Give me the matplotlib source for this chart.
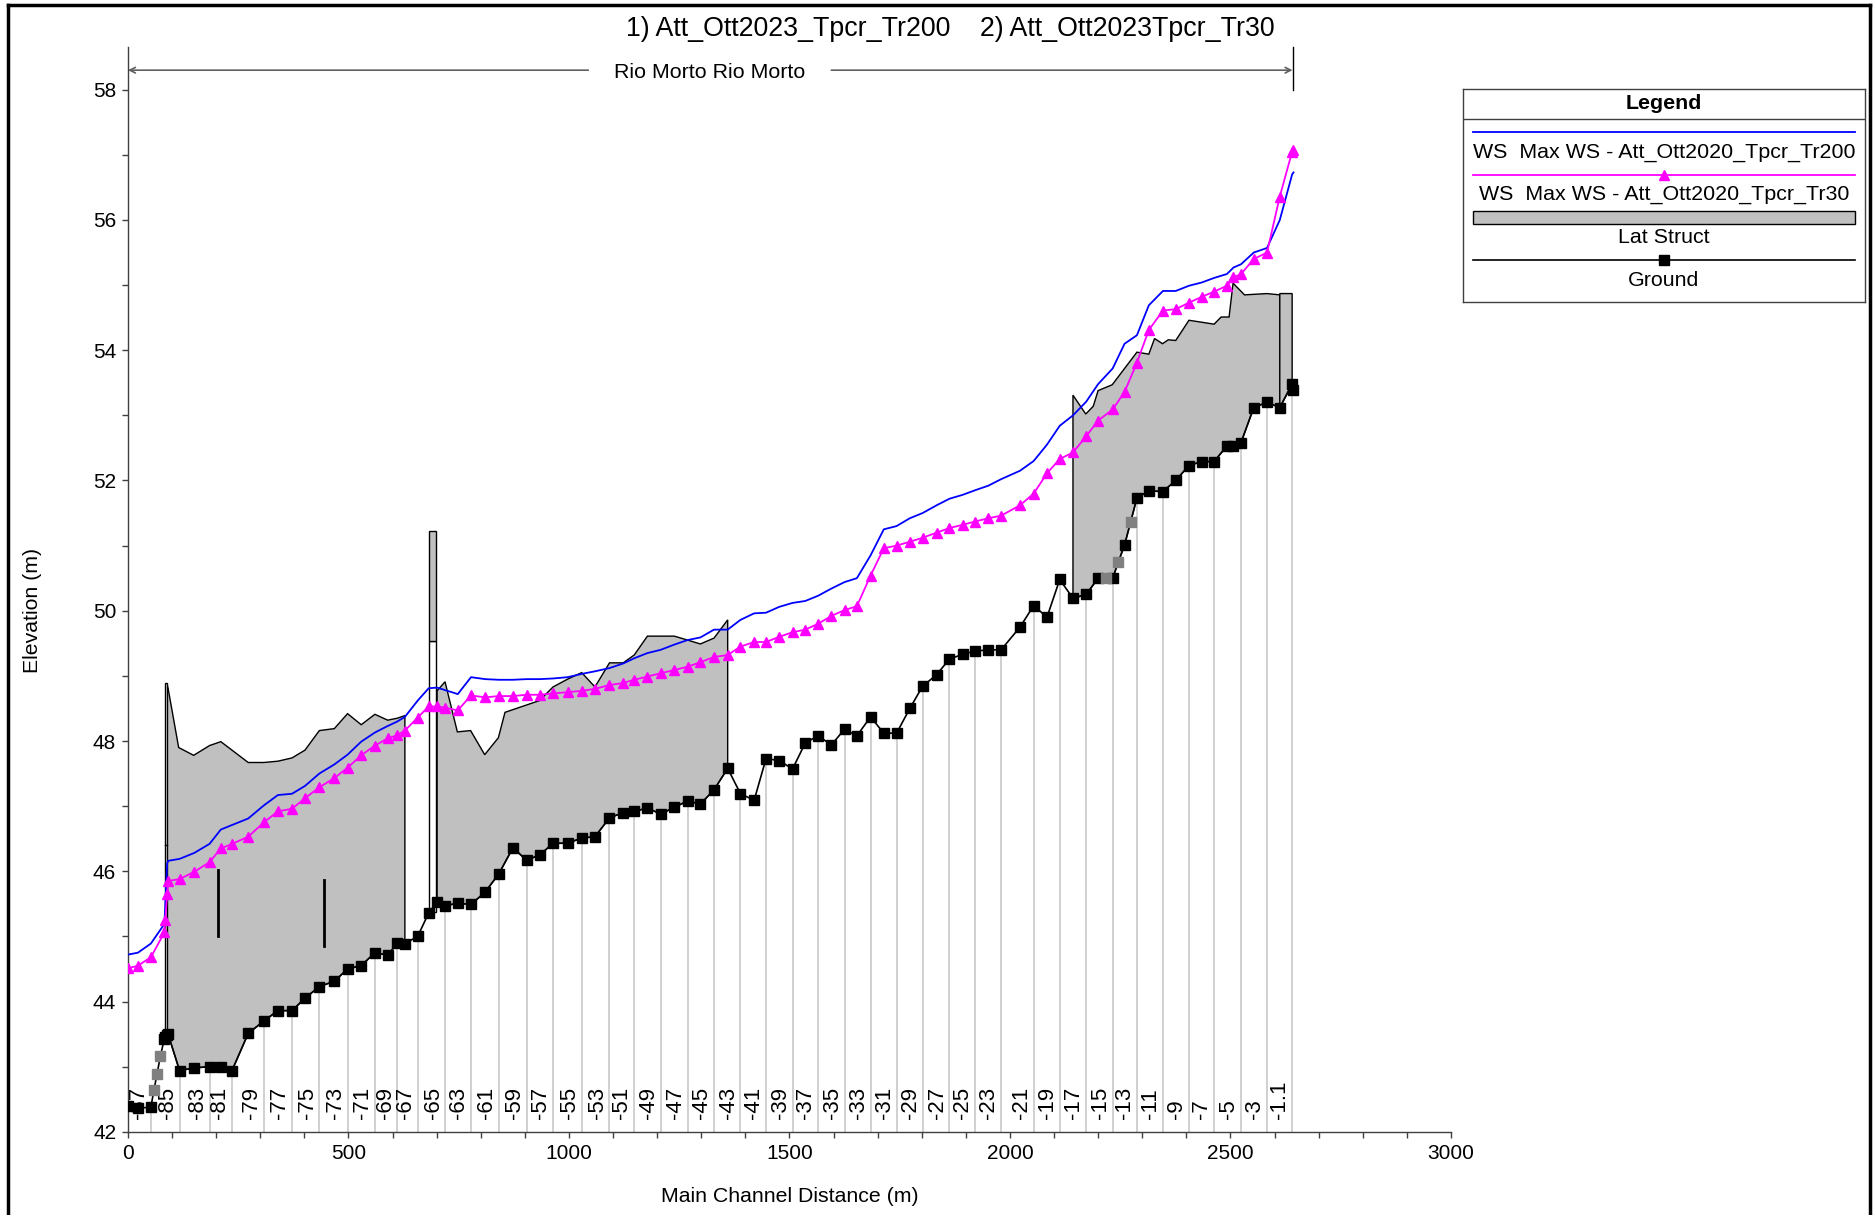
import numpy as np
import matplotlib
matplotlib.use("Agg")
import matplotlib.pyplot as plt
from matplotlib.ticker import MultipleLocator
from matplotlib.patches import Polygon, Rectangle
from matplotlib.lines import Line2D

plt.rcParams['font.family'] = ['Liberation Sans', 'DejaVu Sans']

# cross sections (main channel distance, m)
xs_dist = [0, 22.7, 52, 82.6, 84.5, 89, 91, 117, 150, 185, 210.6, 236, 272.7, 308, 340,
           372, 401.5, 434, 468, 498, 529, 560, 589, 611, 628, 657, 682, 701, 720, 748,
           778, 810, 841, 873, 904, 934, 964, 997, 1029, 1059, 1092, 1123, 1148, 1178,
           1208, 1239, 1269, 1298, 1329, 1360, 1389, 1420, 1447, 1477, 1507, 1536, 1565,
           1595, 1625, 1653, 1684, 1714, 1743, 1773, 1802, 1834, 1863, 1893, 1921, 1951,
           1980, 2023, 2054, 2084, 2113, 2143, 2173, 2200, 2233, 2260, 2288, 2315, 2347,
           2376, 2406, 2435, 2463, 2492, 2507, 2524, 2553, 2583, 2612, 2640, 2643]
ground = [42.39, 42.36, 42.38, 43.43, 43.46, 43.49, 43.50, 42.94, 42.98, 43.00, 42.99,
          42.94, 43.51, 43.70, 43.86, 43.86, 44.05, 44.23, 44.31, 44.50, 44.55, 44.75,
          44.71, 44.90, 44.89, 45.00, 45.36, 45.53, 45.47, 45.51, 45.49, 45.68, 45.96,
          46.36, 46.17, 46.25, 46.43, 46.43, 46.51, 46.53, 46.82, 46.90, 46.92, 46.97,
          46.88, 46.98, 47.08, 47.03, 47.25, 47.58, 47.19, 47.09, 47.73, 47.70, 47.57,
          47.97, 48.08, 47.94, 48.18, 48.08, 48.37, 48.12, 48.12, 48.50, 48.84, 49.02,
          49.26, 49.33, 49.38, 49.40, 49.40, 49.75, 50.08, 49.90, 50.48, 50.19, 50.25,
          50.50, 50.50, 51.01, 51.73, 51.84, 51.83, 52.00, 52.23, 52.29, 52.29, 52.53,
          52.53, 52.58, 53.12, 53.20, 53.12, 53.48, 53.39]
ws_tr200 = [44.72, 44.75, 44.89, 45.19, 45.45, 46.12, 46.16, 46.19, 46.28, 46.42, 46.64,
            46.71, 46.81, 47.01, 47.17, 47.19, 47.31, 47.50, 47.64, 47.79, 47.99, 48.13,
            48.23, 48.30, 48.37, 48.62, 48.81, 48.82, 48.78, 48.72, 48.98, 48.95, 48.94,
            48.94, 48.95, 48.95, 48.96, 48.98, 49.03, 49.07, 49.12, 49.19, 49.27, 49.35,
            49.40, 49.48, 49.55, 49.59, 49.71, 49.71, 49.86, 49.96, 49.97, 50.06, 50.12,
            50.15, 50.23, 50.34, 50.44, 50.50, 50.85, 51.25, 51.30, 51.42, 51.50, 51.62,
            51.72, 51.78, 51.85, 51.92, 52.02, 52.15, 52.30, 52.55, 52.84, 53.00, 53.21,
            53.48, 53.72, 54.10, 54.23, 54.69, 54.91, 54.91, 54.99, 55.04, 55.11, 55.17,
            55.27, 55.32, 55.50, 55.57, 56.00, 56.70, 56.73]
ws_tr30 = [44.51, 44.55, 44.68, 45.06, 45.25, 45.65, 45.85, 45.88, 45.99, 46.14, 46.35,
           46.42, 46.53, 46.75, 46.92, 46.96, 47.12, 47.29, 47.43, 47.59, 47.78, 47.93,
           48.04, 48.09, 48.16, 48.36, 48.53, 48.53, 48.51, 48.47, 48.70, 48.67, 48.69,
           48.69, 48.71, 48.71, 48.73, 48.75, 48.77, 48.80, 48.86, 48.89, 48.94, 48.99,
           49.04, 49.09, 49.14, 49.21, 49.29, 49.32, 49.45, 49.52, 49.52, 49.60, 49.67,
           49.71, 49.80, 49.92, 50.01, 50.07, 50.54, 50.96, 51.00, 51.06, 51.12, 51.20,
           51.27, 51.32, 51.37, 51.42, 51.46, 51.62, 51.80, 52.11, 52.33, 52.43, 52.68,
           52.92, 53.09, 53.36, 53.81, 54.31, 54.61, 54.63, 54.73, 54.82, 54.90, 54.99,
           55.12, 55.17, 55.40, 55.50, 56.36, 57.05, 57.08]

# interpolated sections
interp_dist = [59, 66, 73.5, 2217, 2246, 2274]
interp_ground = [42.64, 42.89, 43.16, 50.50, 50.75, 51.37]

# river stations shown along the bottom
rs_dist = [52, 117, 185, 236, 308, 372, 434, 498, 560, 611, 657, 720, 778, 841, 904, 964,
           1029, 1092, 1148, 1208, 1269, 1329, 1389, 1447, 1507, 1565, 1625, 1684, 1743,
           1802, 1863, 1921, 1980, 2054, 2113, 2173, 2233, 2288, 2347, 2406, 2463, 2524,
           2583, 2640]
rs_labels = ['-87', '-85', '-83', '-81', '-79', '-77', '-75', '-73', '-71', '-69', '-67',
             '-65', '-63', '-61', '-59', '-57', '-55', '-53', '-51', '-49', '-47', '-45',
             '-43', '-41', '-39', '-37', '-35', '-33', '-31', '-29', '-27', '-25', '-23',
             '-21', '-19', '-17', '-15', '-13', '-11', '-9', '-7', '-5', '-3', '-1.1']

# lateral structure crest profiles
ls1_x = [89, 91, 115, 149, 185, 210.6, 272.7, 308, 340, 372, 401.5, 434, 468, 498, 529,
         560, 589, 611, 628]
ls1_z = [48.86, 48.81, 47.90, 47.78, 47.93, 47.99, 47.67, 47.67, 47.69, 47.74, 47.86,
         48.16, 48.19, 48.42, 48.25, 48.41, 48.32, 48.35, 48.39]
ls3_x = [701, 719, 747, 777, 809, 840, 855, 933, 964, 997, 1029, 1059, 1092, 1123, 1148,
         1178, 1239, 1269, 1298, 1329, 1360]
ls3_z = [48.77, 48.91, 48.14, 48.16, 47.79, 48.05, 48.44, 48.62, 48.83, 48.95, 49.05,
         48.83, 49.20, 49.20, 49.32, 49.61, 49.61, 49.55, 49.49, 49.58, 49.86]
ls4_x = [2143, 2172, 2189, 2200, 2232, 2288, 2315, 2328, 2346, 2359, 2376, 2406, 2435,
         2463, 2479, 2497, 2506, 2532, 2583, 2612]
ls4_z = [53.31, 53.02, 53.14, 53.38, 53.47, 53.97, 53.94, 54.18, 54.10, 54.16, 54.15,
         54.46, 54.43, 54.40, 54.51, 54.51, 55.03, 54.85, 54.87, 54.85]
ls5_x = [2612, 2640]
ls5_z = [54.87, 54.87]
# narrow weir near the upstream end and the tall one at ~690 m
ls0_x, ls0_top = [83.5, 87.5], 48.89
ls2_x, ls2_z = [683, 699], [49.53, 51.23]
# short gate bars inside the first structure
gate_x = [204.5, 445.5]
gate_lo = [45.00, 44.86]
gate_hi = [46.02, 45.86]

BLUE = '#0000ff'
MAGENTA = '#ff00ff'
FILL = '#c0c0c0'

xs_dist = np.array(xs_dist)
ground = np.array(ground)
all_x = np.concatenate([xs_dist, interp_dist])
all_z = np.concatenate([ground, interp_ground])
order = np.argsort(all_x, kind='stable')
all_x, all_z = all_x[order], all_z[order]


def ground_at(x):
    return np.interp(x, all_x, all_z)


def struct_polygon(cx, cz):
    x0, x1 = cx[0], cx[-1]
    inside = (all_x > x0) & (all_x < x1)
    bx = np.concatenate([[x1], all_x[inside][::-1], [x0]])
    bz = np.concatenate([[ground_at(x1)], all_z[inside][::-1], [ground_at(x0)]])
    return np.column_stack([np.concatenate([cx, bx]), np.concatenate([cz, bz])])


fig = plt.figure(figsize=(18.76, 12.15), dpi=100)
ax = fig.add_axes([0.0682, 0.0685, 0.7052, 0.8925])

# station lines and labels
for x, lab in zip(rs_dist, rs_labels):
    ax.plot([x, x], [42, ground_at(x)], color='#c8c8c8', lw=1.2, zorder=1)
    ax.text(x - 4, 42.2, lab, rotation=90, ha='right', va='bottom', fontsize=16, zorder=1.5)

# lateral structures
for cx, cz in [(ls1_x, ls1_z), (ls3_x, ls3_z), (ls4_x, ls4_z), (ls5_x, ls5_z)]:
    ax.add_patch(Polygon(struct_polygon(np.array(cx), np.array(cz)), closed=True,
                         facecolor=FILL, edgecolor='black', lw=1.0, zorder=2))
g0 = ground_at(ls0_x[0])
ax.add_patch(Rectangle((ls0_x[0], g0), ls0_x[1] - ls0_x[0], ls0_top - g0,
                       facecolor='white', edgecolor='black', lw=1.0, zorder=2.1))
ax.plot(ls0_x, [46.4, 46.4], color='black', lw=1.0, zorder=2.1)
g2 = ground_at(ls2_x[0])
ax.add_patch(Rectangle((ls2_x[0], g2), ls2_x[1] - ls2_x[0], ls2_z[0] - g2,
                       facecolor='white', edgecolor='black', lw=1.0, zorder=2.1))
ax.add_patch(Rectangle((ls2_x[0], ls2_z[0]), ls2_x[1] - ls2_x[0], ls2_z[1] - ls2_z[0],
                       facecolor=FILL, edgecolor='black', lw=1.0, zorder=2.1))
for x, lo, hi in zip(gate_x, gate_lo, gate_hi):
    ax.plot([x, x], [lo, hi], color='black', lw=2, zorder=2.2)

# water surfaces
ax.plot(xs_dist, ws_tr200, color=BLUE, lw=1.3, zorder=3)
ax.plot(xs_dist, ws_tr30, color=MAGENTA, lw=1.3, marker='^', ms=7.5, zorder=3)

# ground profile
ax.plot(all_x, all_z, color='black', lw=1.2, zorder=4)
ax.plot(xs_dist, ground, ls='none', marker='s', ms=7.5, color='black', zorder=5)
ax.plot(interp_dist, interp_ground, ls='none', marker='s', ms=7.5, color='#808080', zorder=5)

ax.set_xlim(0, 3000)
ax.set_ylim(42, 58.65)
ax.xaxis.set_major_locator(MultipleLocator(500))
ax.xaxis.set_minor_locator(MultipleLocator(100))
ax.yaxis.set_major_locator(MultipleLocator(2))
ax.yaxis.set_minor_locator(MultipleLocator(1))
ax.tick_params(which='both', direction='out', length=4.5, width=1, color='#404040',
               labelsize=15, pad=4)
for s in ['top', 'right']:
    ax.spines[s].set_visible(False)
for s in ['left', 'bottom']:
    ax.spines[s].set_color('#404040')
    ax.spines[s].set_linewidth(1.0)

# reach bracket
ax.annotate('', xy=(0, 58.3), xytext=(1044, 58.3),
            arrowprops=dict(arrowstyle='->', color='#606060', lw=1.2, shrinkA=0, shrinkB=0),
            annotation_clip=False)
ax.annotate('', xy=(2641, 58.3), xytext=(1595, 58.3),
            arrowprops=dict(arrowstyle='->', color='#606060', lw=1.2, shrinkA=0, shrinkB=0),
            annotation_clip=False)
ax.plot([2641, 2641], [58.0, 58.65], color='black', lw=1.0, clip_on=False)
ax.text(1320, 58.27, 'Rio Morto Rio Morto', ha='center', va='center', fontsize=15.4)

fig.text(950 / 1876, 1 - 29.5 / 1215,
         '1) Att_Ott2023_Tpcr_Tr200    2) Att_Ott2023Tpcr_Tr30',
         ha='center', va='center', fontsize=19.3)
fig.text(32 / 1876, 1 - 610 / 1215, 'Elevation (m)', rotation=90,
         ha='center', va='center', fontsize=15.3)
fig.text(789.5 / 1876, 1 - 1197 / 1215, 'Main Channel Distance (m)',
         ha='center', va='center', fontsize=15.3)

# outer frame
fx0, fx1, fy1 = 8 / 1876, 1870 / 1876, 1 - 5 / 1215
for xs, ys in [([fx0, fx0], [-0.01, fy1]), ([fx0, fx1], [fy1, fy1]), ([fx1, fx1], [fy1, -0.01])]:
    fig.add_artist(Line2D(xs, ys, color='black', lw=2.5, transform=fig.transFigure))

# legend box, laid out in pixel units
lax = fig.add_axes([1462.7 / 1876, 1 - 302.3 / 1215, (1865 - 1462.7) / 1876, 213 / 1215])
lax.set_xlim(1462.7, 1865)
lax.set_ylim(302.3, 89.3)
lax.set_xticks([])
lax.set_yticks([])
for s in lax.spines.values():
    s.set_color('#404040')
    s.set_linewidth(1.0)
cx = 1664
lax.plot([1462.7, 1865], [119.3, 119.3], color='#404040', lw=1.0)
lax.text(cx, 103.5, 'Legend', ha='center', va='center', fontsize=15.4, fontweight='bold')
lax.plot([1473.3, 1855], [132, 132], color=BLUE, lw=1.3)
lax.text(cx, 152, 'WS  Max WS - Att_Ott2020_Tpcr_Tr200', ha='center', va='center', fontsize=15.4)
lax.plot([1473.3, 1855], [175, 175], color=MAGENTA, lw=1.3)
lax.plot([cx], [175], marker='^', ms=7.5, color=MAGENTA)
lax.text(cx, 194.5, 'WS  Max WS - Att_Ott2020_Tpcr_Tr30', ha='center', va='center', fontsize=15.4)
lax.add_patch(Rectangle((1473.3, 211), 1855 - 1473.3, 13, facecolor=FILL,
                        edgecolor='black', lw=1.0))
lax.text(cx, 237.5, 'Lat Struct', ha='center', va='center', fontsize=15.4)
lax.plot([1473.3, 1855], [260, 260], color='black', lw=1.2)
lax.plot([cx], [260], marker='s', ms=7, color='black')
lax.text(cx, 280.5, 'Ground', ha='center', va='center', fontsize=15.4)

fig.savefig('out.png', dpi=100)
